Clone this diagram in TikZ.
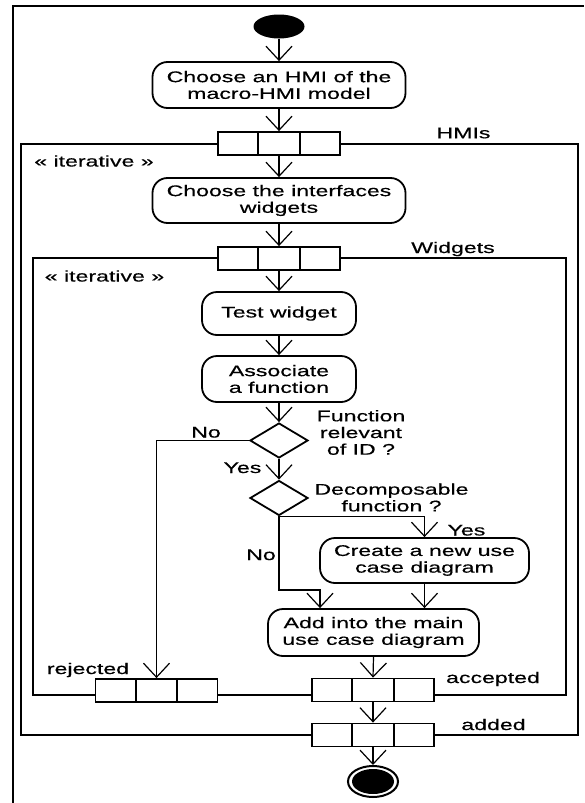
\documentclass[tikz,border=0pt]{standalone}
\usepackage{fontspec}
\setmainfont[FakeStretch=1.5,FakeBold=0.4]{Liberation Sans}
\usetikzlibrary{shapes.geometric,arrows.meta}

\begin{document}
\begin{tikzpicture}[x=1pt,y=-1pt,
  every node/.style={font=\fontsize{15.4pt}{16.7pt}\selectfont},
  action/.style={draw,fill=white,line width=1.8pt,rounded corners=15pt,align=center,inner sep=0pt},
  pin/.style={draw,fill=white,line width=1.8pt,minimum width=122pt,minimum height=23pt,inner sep=0pt,
    path picture={\draw[line width=1.8pt]
      ([xshift=-20.67pt]path picture bounding box.north) -- ([xshift=-20.67pt]path picture bounding box.south)
      ([xshift=20.67pt]path picture bounding box.north) -- ([xshift=20.67pt]path picture bounding box.south);}},
  decision/.style={draw,diamond,fill=white,line width=1.8pt,inner sep=0pt,minimum width=58pt,minimum height=35pt},
  flow/.style={line width=1.2pt,-{Straight Barb[length=14pt,width=26pt,line width=1.2pt]}},
  region/.style={line width=1.3pt},
  lbl/.style={anchor=base,inner sep=0pt},
  note/.style={align=center,inner sep=0pt}
]
\useasboundingbox (0,0) rectangle (584,803);

% enclosing frame, running off the page on the right and bottom
\draw[line width=2pt] (13,803) -- (13,6) -- (584,6);

% expansion regions
\draw[region] (21,144) rectangle (578,735);
\draw[region] (33,258) rectangle (566,695);

% initial node
\node[ellipse,fill=black,minimum width=51pt,minimum height=24pt,inner sep=0pt] (start) at (279,26.5) {};

% actions and pins
\node[action,minimum width=253pt,minimum height=46pt] (hmi) at (279,85) {Choose an HMI of the\\macro-HMI model};
\node[pin] (phmi) at (279,143.5) {};
\node[action,minimum width=253pt,minimum height=45pt] (widg) at (279,200.5) {Choose the interfaces\\widgets};
\node[pin] (pwidg) at (279,258.5) {};
\node[action,minimum width=154pt,minimum height=43pt] (test) at (279,313.5) {Test widget};
\node[action,minimum width=154pt,minimum height=46pt] (assoc) at (279,379) {Associate\\a function};
\node[decision] (rel) at (279,440.5) {};
\node[decision] (dec) at (279,498) {};
\node[action,minimum width=209pt,minimum height=45pt] (create) at (424.5,560.5) {Create a new use\\case diagram};
\node[action,minimum width=211pt,minimum height=47pt] (add) at (373.5,632.5) {Add into the main\\use case diagram};
\node[pin] (prej) at (156.5,690.5) {};
\node[pin] (pacc) at (373,690) {};
\node[pin] (padd) at (373,735) {};

% final node
\node[ellipse,draw,line width=2pt,minimum width=50pt,minimum height=31pt,inner sep=0pt] (final) at (373,781.5) {};
\node[ellipse,fill=black,minimum width=42pt,minimum height=25pt,inner sep=0pt] (finaldot) at (final.center) {};

% labels
\node[lbl] (lhmis) at (463.5,138.3) {HMIs};
\node[lbl] (lwidg) at (453,253) {Widgets};
\node[lbl] (iter1) at (94,166.5) {« iterative »};
\node[lbl] (iter2) at (104.5,281.5) {« iterative »};
\node[note] (qrel) at (361,432.5) {Function\\relevant\\of ID ?};
\node[note] (qdec) at (391.5,497.5) {Decomposable\\function ?};
\node[lbl] (lno1) at (206,437.5) {No};
\node[lbl] (lyes1) at (242.5,473) {Yes};
\node[lbl] (lno2) at (261,560) {No};
\node[lbl] (lyes2) at (466.5,535.5) {Yes};
\node[lbl] (lrej) at (88,674) {rejected};
\node[lbl] (lacc) at (493,683) {accepted};
\node[lbl] (ladd) at (493.5,730) {added};

% control flows
\draw[flow] (start.south) -- (hmi.north);
\draw[flow] (hmi.south) -- (phmi.north);
\draw[flow] (phmi.south) -- (widg.north);
\draw[flow] (widg.south) -- (pwidg.north);
\draw[flow] (pwidg.south) -- (test.north);
\draw[flow] (test.south) -- (assoc.north);
\draw[flow] (assoc.south) -- (rel.north);
\draw[flow] (rel.south) -- (dec.north);
\draw[flow] (rel.west) -| (prej.north);
\draw[flow] (dec.south) -| (create.north);
\coordinate (nobend) at (320,590);
\draw[flow] (dec.south) |- (nobend) -- (nobend |- add.north);
\draw[flow] (create.south) -- (create.south |- add.north);
\draw[flow] (add.south) -- (pacc.north);
\draw[flow] (pacc.south) -- (padd.north);
\draw[flow] (padd.south) -- (final.north);
\end{tikzpicture}
\end{document}
